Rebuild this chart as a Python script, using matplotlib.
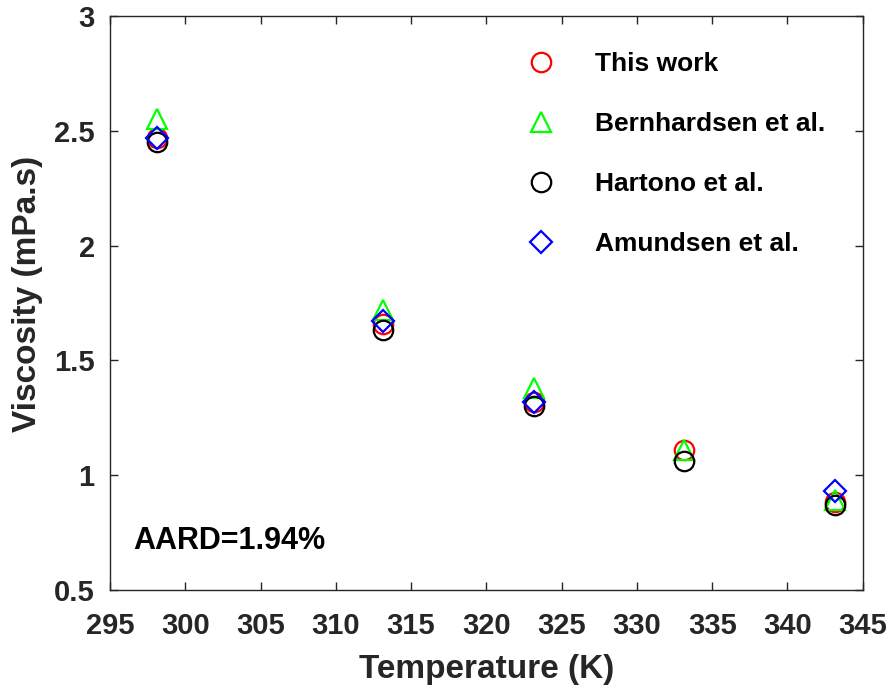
import matplotlib
matplotlib.use('Agg')
import matplotlib.pyplot as plt

plt.rcParams['font.family'] = ['Liberation Sans', 'DejaVu Sans']
plt.rcParams['font.weight'] = 'bold'

# viscosity data (mPa.s) vs temperature (K)
temp = [298.15, 313.15, 323.15, 333.15, 343.15]
this_work = [2.47, 1.66, 1.32, 1.11, 0.885]
bernhardsen = [2.55, 1.72, 1.38, 1.11, 0.89]
hartono = [2.45, 1.63, 1.30, 1.06, 0.87]
temp_amundsen = [298.15, 313.15, 323.15, 343.15]
amundsen = [2.47, 1.67, 1.32, 0.93]

fig = plt.figure(figsize=(8.94, 6.9), dpi=100)
ax = fig.add_axes([0.123, 0.145, 0.842, 0.832])

ms = 14
mew = 1.6
ax.plot(temp, this_work, 'o', mfc='none', mec='red', ms=ms, mew=mew, label='This work')
ax.plot(temp, bernhardsen, '^', mfc='none', mec='#00ff00', ms=ms, mew=mew, label='Bernhardsen et al.')
ax.plot(temp, hartono, 'o', mfc='none', mec='black', ms=ms, mew=mew, label='Hartono et al.')
ax.plot(temp_amundsen, amundsen, 'D', mfc='none', mec='blue', ms=ms * 0.8, mew=mew, label='Amundsen et al.')

ax.set_xlim(295, 345)
ax.set_ylim(0.5, 3)
ax.set_xticks(range(295, 346, 5))
ax.set_yticks([0.5, 1, 1.5, 2, 2.5, 3])
ax.set_yticklabels(['0.5', '1', '1.5', '2', '2.5', '3'])
ax.tick_params(direction='in', labelsize=21, length=6, width=1, top=True, right=True,
               colors='#262626')
ax.tick_params(axis='x', pad=16)
ax.tick_params(axis='y', pad=11)
for s in ax.spines.values():
    s.set_linewidth(1)
    s.set_color('#262626')

ax.set_xlabel('Temperature (K)', fontsize=24, fontweight='bold', color='#262626', labelpad=10)
ax.set_ylabel('Viscosity (mPa.s)', fontsize=24, fontweight='bold', color='#262626')
ax.yaxis.set_label_coords(-0.089, 0.515)
ax.text(0.031, 0.085, 'AARD=1.94%', transform=ax.transAxes, fontsize=22, fontweight='bold',
        va='center')

ax.legend(loc='upper left', frameon=False, fontsize=19, handlelength=1.0, handletextpad=1.55,
          labelspacing=1.37, borderpad=0, borderaxespad=0,
          bbox_to_anchor=(0.5906, 0.9246), bbox_transform=fig.transFigure)

fig.savefig('out.png', dpi=100)
